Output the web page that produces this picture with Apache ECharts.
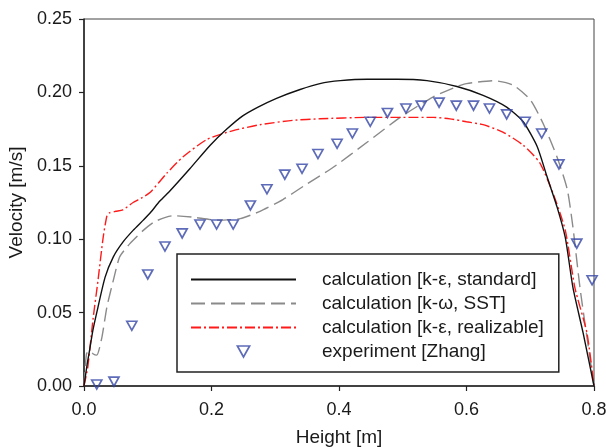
<!DOCTYPE html>
<html>
<head>
<meta charset="utf-8">
<script src="https://cdn.jsdelivr.net/npm/echarts@6/dist/echarts.min.js"></script>
<style>
html,body{margin:0;padding:0;background:#fff;}
#chart{width:606px;height:447px;}
</style>
</head>
<body>
<div id="chart"></div>
<script>
// Series names
var seriesNames = ['calculation [k-ε, standard]', 'calculation [k-ω, SST]', 'calculation [k-ε, realizable]', 'experiment [Zhang]'];

// k-epsilon standard
var stdX = [0,0.005,0.009,0.014,0.020,0.033,0.046,0.061,0.077,0.093,0.104,0.119,0.135,0.166,0.198,0.224,0.249,0.273,0.302,0.339,0.370,0.402,0.444,0.491,0.538,0.585,0.626,0.663,0.689,0.711,0.726,0.742,0.755,0.767,0.783,0.800];
var stdY = [0,0.015,0.025,0.038,0.050,0.074,0.088,0.098,0.106,0.113,0.118,0.126,0.133,0.148,0.164,0.175,0.184,0.190,0.196,0.202,0.206,0.208,0.209,0.209,0.208,0.204,0.198,0.190,0.180,0.163,0.143,0.122,0.101,0.067,0.036,0];

// k-omega SST
var sstX = [0,0.004,0.010,0.014,0.020,0.028,0.036,0.046,0.056,0.072,0.093,0.111,0.140,0.171,0.209,0.245,0.276,0.312,0.344,0.391,0.444,0.496,0.548,0.585,0.600,0.642,0.673,0.700,0.720,0.742,0.758,0.767,0.778,0.791,0.800];
var sstY = [0,0.022,0.024,0.022,0.021,0.033,0.054,0.072,0.088,0.097,0.106,0.112,0.116,0.115,0.113,0.114,0.119,0.127,0.136,0.149,0.166,0.183,0.197,0.204,0.206,0.208,0.205,0.195,0.179,0.156,0.134,0.108,0.067,0.027,0];

// k-epsilon realizable
var relX = [0,0.006,0.014,0.022,0.030,0.036,0.040,0.050,0.061,0.077,0.090,0.104,0.130,0.155,0.193,0.234,0.276,0.328,0.370,0.444,0.548,0.574,0.600,0.626,0.657,0.689,0.715,0.736,0.755,0.770,0.789,0.800];
var relY = [0,0.013,0.045,0.072,0.101,0.116,0.118,0.119,0.120,0.125,0.128,0.132,0.145,0.156,0.168,0.174,0.178,0.181,0.182,0.183,0.183,0.182,0.180,0.178,0.173,0.164,0.152,0.131,0.106,0.067,0.036,0];

// experiment (Zhang)
var expX = [0.020,0.047,0.075,0.100,0.127,0.154,0.182,0.208,0.234,0.261,0.287,0.315,0.342,0.367,0.397,0.421,0.449,0.476,0.505,0.529,0.557,0.584,0.611,0.636,0.663,0.692,0.718,0.745,0.773,0.797];
var expY = [0.001,0.003,0.041,0.076,0.095,0.104,0.110,0.110,0.110,0.123,0.134,0.144,0.148,0.158,0.165,0.172,0.180,0.186,0.189,0.191,0.193,0.191,0.191,0.189,0.185,0.180,0.172,0.151,0.097,0.072];

// axis ticks
var xTicks = {min: 0, max: 0.8, step: 0.2};
var yTicks = {min: 0, max: 0.25, step: 0.05};

function zip(xs, ys) { return xs.map(function (x, i) { return [x, ys[i]]; }); }

var font = 'Liberation Sans, Arial, sans-serif';
var tri = 'path://M0,0 L10,0 L5,9 Z';
var hidden = {color: 'transparent', borderWidth: 0, opacity: 0};
var markerColor = '#3446a6';

var chart = echarts.init(document.getElementById('chart'), null, {renderer: 'canvas'});
chart.setOption({
  animation: false,
  backgroundColor: '#fff',
  grid: {left: 84, right: 12, top: 19, bottom: 61, outerBoundsMode: 'none', containLabel: false,
    show: true, borderColor: '#444', borderWidth: 1, backgroundColor: 'transparent'},
  xAxis: {
    type: 'value', min: xTicks.min, max: xTicks.max, interval: xTicks.step,
    name: 'Height [m]', nameLocation: 'middle', nameGap: 42,
    nameTextStyle: {fontFamily: font, fontSize: 19, color: '#1a1a1a'},
    axisLine: {show: true, onZero: false, lineStyle: {color: '#222', width: 1.5}},
    axisTick: {show: true, inside: false, length: 5, lineStyle: {color: '#222', width: 1.2}},
    axisLabel: {fontFamily: font, fontSize: 18, color: '#1a1a1a', margin: 15, formatter: function (v) { return v.toFixed(1); }},
    splitLine: {show: false}
  },
  yAxis: {
    type: 'value', min: yTicks.min, max: yTicks.max, interval: yTicks.step,
    name: 'Velocity [m/s]', nameLocation: 'middle', nameGap: 54, nameRotate: 90,
    nameTextStyle: {fontFamily: font, fontSize: 19, color: '#1a1a1a'},
    axisLine: {show: true, onZero: false, lineStyle: {color: '#222', width: 1.5}},
    axisTick: {show: true, inside: false, length: 5, lineStyle: {color: '#222', width: 1.2}},
    axisLabel: {fontFamily: font, fontSize: 18, color: '#1a1a1a', margin: 12, formatter: function (v) { return v.toFixed(2); }},
    splitLine: {show: false}
  },
  legend: {
    orient: 'vertical', left: 177, top: 254,
    padding: [16, 15, 11, 13],
    backgroundColor: '#fff',
    borderColor: '#222', borderWidth: 1.5,
    itemWidth: 105, itemHeight: 11, itemGap: 5,
    textStyle: {fontFamily: font, fontSize: 19, color: '#1a1a1a', lineHeight: 19, padding: [0, 0, 0, 21]},
    data: [
      {name: seriesNames[0], itemStyle: hidden},
      {name: seriesNames[1], itemStyle: hidden},
      {name: seriesNames[2], itemStyle: hidden},
      {name: seriesNames[3], icon: tri, itemStyle: {color: 'transparent', borderColor: markerColor, borderWidth: 1.7}}
    ]
  },
  series: [
    {name: seriesNames[0], type: 'line', data: zip(stdX, stdY), symbol: 'none', smooth: 0.2,
      lineStyle: {color: '#111', width: 1.4}, itemStyle: {color: '#111'}, z: 3},
    {name: seriesNames[1], type: 'line', data: zip(sstX, sstY), symbol: 'none', smooth: 0.2,
      lineStyle: {color: '#8a8a8a', width: 1.4, type: [14, 6]}, itemStyle: {color: '#8a8a8a'}, z: 2},
    {name: seriesNames[2], type: 'line', data: zip(relX, relY), symbol: 'none', smooth: 0.2,
      lineStyle: {color: '#ff1a1a', width: 1.4, type: [10, 3, 2, 3]}, itemStyle: {color: '#ff1a1a'}, z: 2},
    {name: seriesNames[3], type: 'scatter', data: zip(expX, expY), symbol: tri, symbolSize: [10, 9],
      itemStyle: {color: 'transparent', borderColor: markerColor, borderWidth: 1.7}, z: 4}
  ]
});
</script>
</body>
</html>
